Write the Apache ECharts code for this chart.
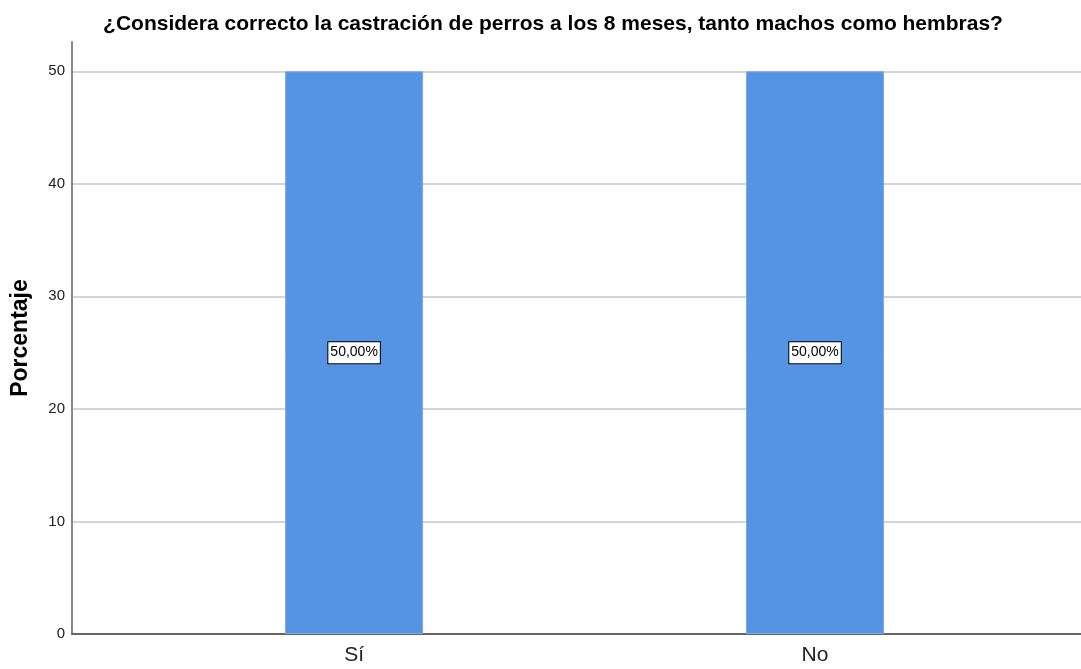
<!DOCTYPE html>
<html>
<head>
<meta charset="utf-8">
<script src="https://cdn.jsdelivr.net/npm/echarts@6/dist/echarts.min.js"></script>
<style>
html, body { margin: 0; padding: 0; background: #fff; }
#chart { width: 1081px; height: 669px; }
</style>
</head>
<body>
<div id="chart"></div>
<script>
var categories = ['Sí', 'No'];
var percentages = [50, 50];
var yTicks = [0, 10, 20, 30, 40, 50];

var myChart = echarts.init(document.getElementById('chart'));

var barData = percentages.map(function (v, i) {
  return [i, v];
});

var option = {
  animation: false,
  title: {
    text: '¿Considera correcto la castración de perros a los 8 meses, tanto machos como hembras?',
    left: 548,
    textAlign: 'center',
    top: 9,
    textStyle: {
      fontFamily: 'Liberation Sans',
      fontSize: 21,
      fontWeight: 'bold',
      color: '#000'
    }
  },
  grid: {
    left: 72,
    right: 0,
    top: 42,
    bottom: 35
  },
  xAxis: {
    type: 'value',
    min: -0.612,
    max: 1.577,
    splitLine: { show: false },
    axisLine: { lineStyle: { color: '#666', width: 2 } },
    axisTick: { show: false },
    axisLabel: {
      customValues: [0, 1],
      formatter: function (v) { return categories[Math.round(v)]; },
      fontFamily: 'Liberation Sans',
      fontSize: 21,
      color: '#222',
      margin: 11
    }
  },
  yAxis: {
    type: 'value',
    min: 0,
    max: 52.6,
    interval: 10,
    name: 'Porcentaje',
    nameLocation: 'middle',
    nameGap: 40,
    nameTextStyle: {
      fontFamily: 'Liberation Sans',
      fontSize: 23,
      fontWeight: 'bold',
      color: '#000'
    },
    axisLine: { show: true, onZero: false, lineStyle: { color: '#888', width: 2 } },
    axisTick: { show: false },
    axisLabel: {
      customValues: yTicks,
      fontFamily: 'Liberation Sans',
      fontSize: 15,
      color: '#222',
      margin: 7
    },
    splitLine: {
      showMaxLine: false,
      lineStyle: { color: '#d4d4d4', width: 2 }
    }
  },
  series: [{
    type: 'bar',
    data: barData,
    barWidth: 138,
    itemStyle: {
      color: '#5593e3',
      borderColor: '#7aaae9',
      borderWidth: 1
    },
    label: {
      show: true,
      position: 'inside',
      formatter: function (p) { return p.value[1].toFixed(2).replace('.', ',') + '%'; },
      fontFamily: 'Liberation Sans',
      fontSize: 14,
      color: '#000',
      backgroundColor: '#fff',
      borderColor: '#000',
      borderWidth: 1,
      padding: [4, 2, 3, 2]
    }
  }]
};

myChart.setOption(option);
</script>
</body>
</html>
